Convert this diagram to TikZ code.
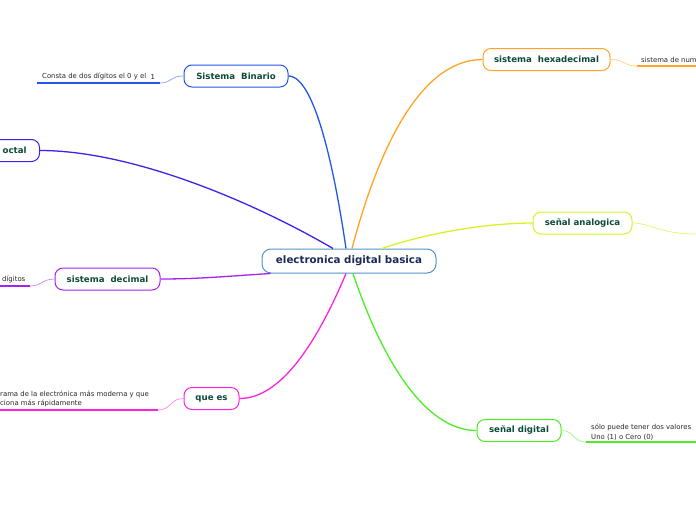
\documentclass[tikz,border=0pt]{standalone}
\usepackage{fontspec}
\setmainfont{DejaVu Sans}
\definecolor{cbin}{HTML}{2255EE}
\definecolor{coct}{HTML}{4420E6}
\definecolor{cdec}{HTML}{A222F0}
\definecolor{cque}{HTML}{FF22DD}
\definecolor{cdig}{HTML}{4AEE22}
\definecolor{cana}{HTML}{D8F224}
\definecolor{chex}{HTML}{FFA424}
\definecolor{ctxt}{HTML}{0D4A3A}
\definecolor{cctr}{HTML}{1B2A55}
\definecolor{cctrb}{HTML}{4F93C8}
\begin{document}
\begin{tikzpicture}[x=1pt,y=-1pt,
  topic/.style={draw, rounded corners=8pt, line width=1pt, fill=white,
    font=\fontsize{8.6}{10}\selectfont\bfseries, text=ctxt, minimum height=22pt, inner sep=0pt},
  center/.style={draw=cctrb, rounded corners=9pt, line width=1pt, fill=white,
    font=\fontsize{10.3}{12}\selectfont\bfseries, text=cctr, minimum height=24pt, minimum width=174pt, inner sep=0pt},
  leaf/.style={font=\fontsize{6.9}{9.5}\selectfont, text=black!85, inner sep=0pt, anchor=base west, align=left},
  branch/.style={line width=1.3pt},
  uline/.style={line width=1.6pt},
  thin/.style={line width=0.7pt}]
\useasboundingbox (0,0) rectangle (696,520);

% center
\node[center] (c) at (349,261) {electronica digital basica};

% topics
\node[topic, draw=cbin, minimum width=104pt] (bin) at (236,76) {Sistema\ \ Binario};
\node[topic, draw=coct, anchor=east, inner xsep=13pt] (oct) at (40,150.5) {octal};
\node[topic, draw=cdec, minimum width=105pt] (dec) at (107.5,279) {sistema\ \ decimal};
\node[topic, draw=cque, minimum width=55pt] (que) at (211.5,398.5) {que es};
\node[topic, draw=cdig, minimum width=84pt] (dig) at (519,430.5) {señal digital};
\node[topic, draw=cana, minimum width=99pt] (ana) at (582.5,223) {señal analogica};
\node[topic, draw=chex, minimum width=127pt] (hex) at (546.5,59.5) {sistema\ \ hexadecimal};

% branches
\draw[branch, cbin] (c.north) ++(-3,0) .. controls (336,180) and (316,76) .. (bin.east);
\draw[branch, coct] (c.north) ++(-16,0) .. controls (250,200) and (130,150.5) .. (oct.east);
\draw[branch, cdec] (c.south west) ++(9,0) .. controls (230,276) and (200,279) .. (dec.east);
\draw[branch, cque] (c.south) ++(-3,0) .. controls (318,340) and (282,398.5) .. (que.east);
\draw[branch, cdig] (c.south) ++(4,0) .. controls (382,360) and (425,430.5) .. (dig.west);
\draw[branch, cana] (c.north) ++(33,0) .. controls (430,232) and (490,223) .. (ana.west);
\draw[branch, chex] (c.north) ++(3,0) .. controls (378,150) and (420,59.5) .. (hex.west);

% leaves
\coordinate (b1) at (37,83); \coordinate (b2) at (160,83);
\node[leaf] (tb) at (42,78) {Consta de dos dígitos el 0 y el\ \ \raisebox{-1pt}{1}};
\draw[uline, cbin] (b1) -- (b2);
\draw[thin, cbin!55] (b2) .. controls (172,83) and (170,76) .. (bin.west);

\coordinate (h1) at (637,66); \coordinate (h2) at (696,66);
\node[leaf] (th) at (641,62) {sistema de num};
\draw[uline, chex] (h1) -- (h2);
\draw[thin, chex!55] (hex.east) .. controls (625,59.5) and (624,66) .. (h1);

\coordinate (a1) at (696,234);
\draw[thin, cana!70] (ana.east) .. controls (650,223) and (660,234) .. (a1);

\coordinate (d1) at (0,286); \coordinate (d2) at (30,286);
\node[leaf] (td) at (2,281.5) {dígitos};
\draw[uline, cdec] (d1) -- (d2);
\draw[thin, cdec!55] (d2) .. controls (42,286) and (42,279) .. (dec.west);

\coordinate (q1) at (0,410); \coordinate (q2) at (158,410);
\node[leaf] (tq) at (0,405.5) {rama de la electrónica más moderna y que\\ciona más rápidamente};
\draw[uline, cque] (q1) -- (q2);
\draw[thin, cque!55] (q2) .. controls (171,410) and (170,398.5) .. (que.west);

\coordinate (g1) at (586,442); \coordinate (g2) at (696,442);
\node[leaf] (tg) at (591,439) {sólo puede tener dos valores\\Uno (1) o Cero (0)};
\draw[uline, cdig] (g1) -- (g2);
\draw[thin, cdig!55] (dig.east) .. controls (574,430.5) and (573,442) .. (g1);
\end{tikzpicture}
\end{document}
